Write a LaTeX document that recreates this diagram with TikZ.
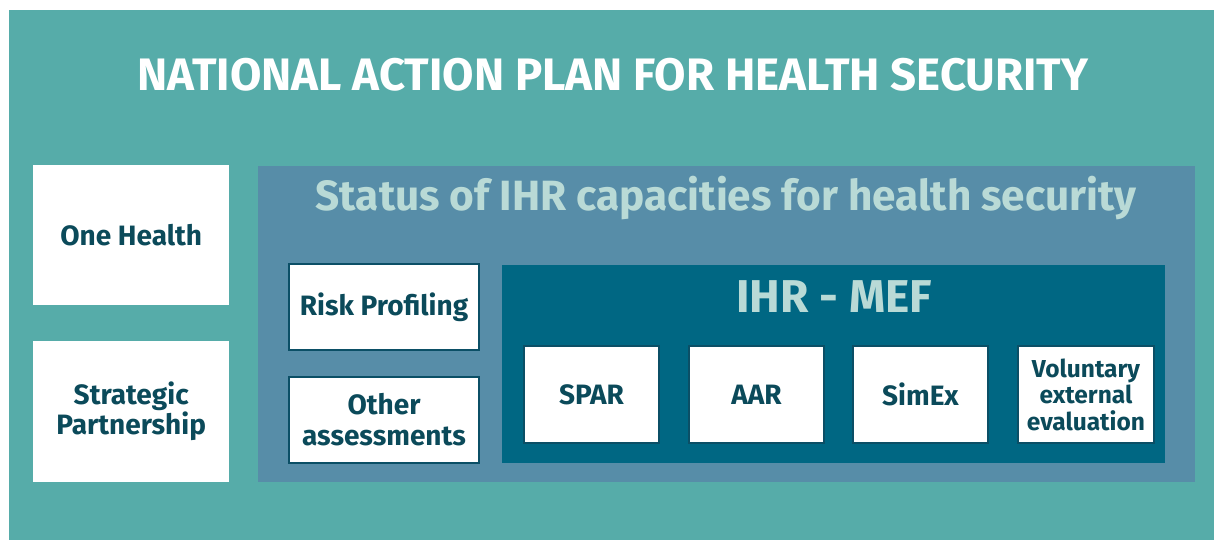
\documentclass[tikz,border=0pt]{standalone}
\usepackage{fontspec}
\setmainfont{Fira Sans}
\definecolor{outer}{HTML}{56ACA9}
\definecolor{status}{HTML}{578DA8}
\definecolor{mef}{HTML}{006783}
\definecolor{txt}{HTML}{0B4A5A}
\definecolor{light}{HTML}{B9DAD6}
\definecolor{edge}{HTML}{0B4F66}
\tikzset{
  wbox/.style={fill=white, draw=edge, line width=2pt, align=center, text=txt, font=\bfseries\fontsize{28}{31}\selectfont, inner sep=0pt},
  plainbox/.style={fill=white, align=center, text=txt, font=\bfseries\fontsize{28}{30}\selectfont, inner sep=0pt},
}
\begin{document}
\begin{tikzpicture}[x=1pt,y=-1pt]
\useasboundingbox (0,0) rectangle (1214,540);
\fill[white] (0,0) rectangle (1214,540);
\node[fill=outer, minimum width=1205pt, minimum height=530pt, inner sep=0pt, anchor=north west] (frame) at (9,10) {};
\node[text=white, font=\bfseries\fontsize{45.5}{47}\selectfont, inner sep=0pt] (title) at (613,75) {NATIONAL ACTION PLAN FOR HEALTH SECURITY};
\node[plainbox, minimum width=196pt, minimum height=140pt, anchor=north west] (onehealth) at (33,165) {One Health};
\node[plainbox, minimum width=196pt, minimum height=141pt, anchor=north west] (strategic) at (33,341) {Strategic\\Partnership};
\node[fill=status, minimum width=937pt, minimum height=316pt, inner sep=0pt, anchor=north west] (statusbox) at (258,166) {};
\node[text=light, font=\bfseries\fontsize{42.3}{44}\selectfont, inner sep=0pt] (statustitle) at (726,198) {Status of IHR capacities for health security};
\node[wbox, minimum width=190pt, minimum height=86pt, anchor=north west] (risk) at (288,263) {Risk Profiling};
\node[wbox, minimum width=190pt, minimum height=86pt, anchor=north west] (other) at (288,376) {Other\\assessments};
\node[fill=mef, minimum width=663pt, minimum height=198pt, inner sep=0pt, anchor=north west] (mefbox) at (502,265) {};
\node[text=light, font=\bfseries\fontsize{46}{48}\selectfont, inner sep=0pt] (meftitle) at (834,297) {IHR - MEF};
\node[wbox, minimum width=135pt, minimum height=97pt, anchor=north west] (spar) at (523,345) {SPAR};
\node[wbox, minimum width=135pt, minimum height=97pt, anchor=north west] (aar) at (688,345) {AAR};
\node[wbox, minimum width=135pt, minimum height=97pt, anchor=north west] (simex) at (852,345) {SimEx};
\node[wbox, minimum width=136pt, minimum height=97pt, anchor=north west, font=\bfseries\fontsize{24.5}{26.5}\selectfont] (vee) at (1017,345) {Voluntary\\external\\evaluation};
\end{tikzpicture}
\end{document}
